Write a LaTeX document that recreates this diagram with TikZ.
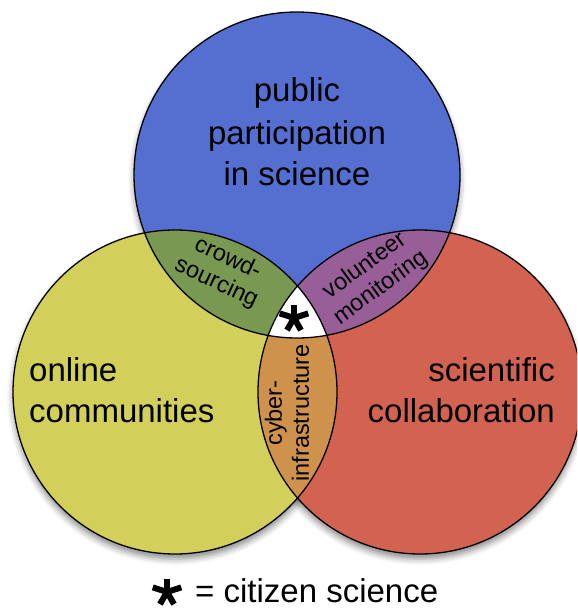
\documentclass[tikz,border=0pt]{standalone}
\usepackage{fontspec}
\setmainfont{Liberation Sans}
\usetikzlibrary{shadows.blur}
\definecolor{cblue}{RGB}{84,111,208}
\definecolor{cyellow}{RGB}{210,207,90}
\definecolor{cred}{RGB}{209,99,80}
\definecolor{cgreen}{RGB}{121,152,82}
\definecolor{cpurple}{RGB}{151,94,152}
\definecolor{corange}{RGB}{206,146,76}
\begin{document}
\begin{tikzpicture}[x=1pt,y=-1pt,
  big/.style={font=\fontsize{33}{40}\selectfont, inner sep=0pt},
  small/.style={font=\fontsize{23.5}{27}\selectfont, inner sep=0pt, align=center},
  rim/.style={draw=black, line width=1.3pt},
  shade/.style={blur shadow={shadow xshift=0pt, shadow yshift=-5pt, shadow blur radius=6pt, shadow opacity=45}},
  astarm/.style={line width=6pt},
  pics/astk/.style={code={
    \draw[astarm] (0,0) -- (90:13pt);
    \draw[astarm] (0,0) -- (18:15pt);
    \draw[astarm] (0,0) -- (162:15pt);
    \draw[astarm] (0,0) -- (240:14pt);
    \draw[astarm] (0,0) -- (300:14pt);
  }}
]
\useasboundingbox (0,0) rectangle (577,609);
\clip (0,0) rectangle (577,609);
\coordinate (T) at (297,175);
\coordinate (L) at (175,392);
\coordinate (R) at (420,392);
% shadows
\path[shade, fill=white] (L) circle[radius=162pt];
\path[shade, fill=white] (R) circle[radius=162pt];
\path[shade, fill=white] (T) circle[radius=163pt];
% base fills
\fill[cblue] (T) circle[radius=163pt];
\fill[cyellow] (L) circle[radius=162pt];
\fill[cred] (R) circle[radius=162pt];
% pairwise overlaps
\begin{scope}
  \clip (T) circle[radius=163pt];
  \fill[cgreen] (L) circle[radius=162pt];
  \fill[cpurple] (R) circle[radius=162pt];
\end{scope}
\begin{scope}
  \clip (L) circle[radius=162pt];
  \fill[corange] (R) circle[radius=162pt];
  \clip (T) circle[radius=163pt];
  \fill[white] (R) circle[radius=162pt];
\end{scope}
% outlines
\draw[rim] (T) circle[radius=163pt];
\draw[rim] (L) circle[radius=162pt];
\draw[rim] (R) circle[radius=162pt];
% main labels
\node[big, anchor=base] (pub1) at (297,102) {public};
\node[big, anchor=base] (pub2) at (297,145) {participation};
\node[big, anchor=base] (pub3) at (297,186) {in science};
\node[big, anchor=base west] (onl1) at (29,381) {online};
\node[big, anchor=base west] (onl2) at (29,422) {communities};
\node[big, anchor=base east] (sci1) at (555,381) {scientific};
\node[big, anchor=base east] (sci2) at (555,422) {collaboration};
% overlap labels
\node[small, rotate=-25] (crowd) at (222,271) {crowd-\\sourcing};
\node[small, rotate=36] (vol) at (373,277) {volunteer\\monitoring};
\node[small, rotate=90] (cyber) at (287,413) {cyber-\\infrastructure};
% citizen science marks
\pic (star1) at (294,318) {astk};
\pic (star2) at (167,592) {astk};
\node[big, anchor=base west] (legend) at (195,602) {= citizen science};
\end{tikzpicture}
\end{document}
